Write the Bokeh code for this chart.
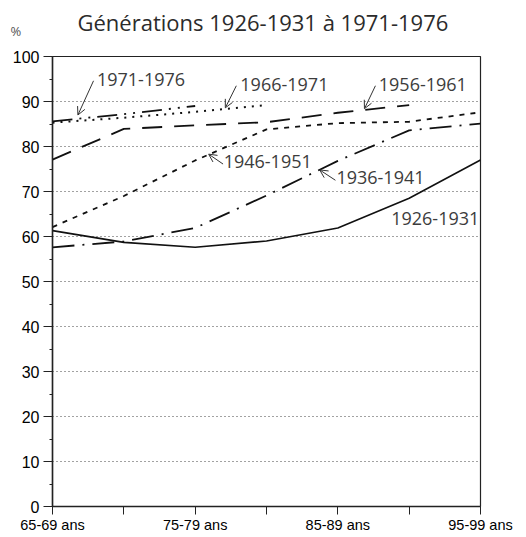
from bokeh.plotting import figure
from bokeh.models import Range1d, FixedTicker, Label, Arrow, OpenHead, Title
from bokeh.embed import file_html
from bokeh.resources import INLINE

# ---- data -------------------------------------------------------------
age_groups = ["65-69 ans", "70-74 ans", "75-79 ans", "80-84 ans",
              "85-89 ans", "90-94 ans", "95-99 ans"]
shown_labels = ["65-69 ans", "", "75-79 ans", "", "85-89 ans", "", "95-99 ans"]

gen_1926_1931 = [61.3, 58.7, 57.6, 59.0, 61.9, 68.5, 77.0]
gen_1936_1941 = [57.6, 58.9, 61.9, 69.1, 76.8, 83.6, 85.1]
gen_1946_1951 = [62.1, 69.0, 76.9, 83.8, 85.2, 85.5, 87.6]
gen_1956_1961 = [77.1, 83.9, 84.7, 85.4, 87.5, 89.2]
gen_1966_1971 = [85.3, 86.4, 87.7, 89.2]
gen_1971_1976 = [85.6, 87.2, 89.0]

series_names = ["1926-1931", "1936-1941", "1946-1951",
                "1956-1961", "1966-1971", "1971-1976"]
series_values = [gen_1926_1931, gen_1936_1941, gen_1946_1951,
                 gen_1956_1961, gen_1966_1971, gen_1971_1976]

title_text = "Générations 1926-1931 à 1971-1976"
unit_text = "%"
y_ticks = list(range(0, 101, 10))

# ---- styles -----------------------------------------------------------
dashes = ["solid", "22 8 2 8", "5 6", "20 12", "2 6", "20 7 2 7 2 7"]
widths = [1.6, 1.8, 1.8, 1.8, 2.0, 1.8]

# annotation positions (x of text start, y of text centre) and arrows
label_pos = {
    "1971-1976": (0.623, 94.9),
    "1966-1971": (2.633, 93.7),
    "1956-1961": (4.574, 93.7),
    "1946-1951": (2.399, 76.6),
    "1936-1941": (3.980, 73.1),
    "1926-1931": (4.748, 64.0),
}
arrow_pos = {
    "1971-1976": (0.575, 94.6, 0.356, 87.0),
    "1966-1971": (2.577, 93.5, 2.423, 88.6),
    "1956-1961": (4.527, 93.5, 4.373, 88.4),
    "1946-1951": (2.391, 76.1, 2.189, 78.3),
    "1936-1941": (3.966, 72.5, 3.746, 74.8),
}

x_idx = list(range(len(age_groups)))

p = figure(width=518, height=537, output_backend="svg", toolbar_location=None,
           x_range=Range1d(0, len(age_groups) - 1), y_range=Range1d(0, 100),
           min_border_left=52, min_border_right=38, min_border_top=56,
           min_border_bottom=31, background_fill_color="white",
           border_fill_color="white")

# titles: unit sign next to the frame, main title stacked above it
p.title.text = ""
p.add_layout(Title(text=unit_text, align="left", offset=-42, standoff=34,
                   text_font="Open Sans", text_font_size="13px",
                   text_font_style="normal", text_color="#555555"), "above")
p.add_layout(Title(text=title_text, align="left", offset=25, standoff=-68,
                   text_font="Open Sans", text_font_size="22px",
                   text_font_style="normal", text_color="#2b2b2b"), "above")

p.outline_line_color = "#222222"
p.outline_line_width = 1.2

# grid
p.xgrid.grid_line_color = None
p.ygrid.ticker = FixedTicker(ticks=y_ticks)
p.ygrid.grid_line_color = "#444444"
p.ygrid.grid_line_dash = "1 3"
p.ygrid.grid_line_width = 1.1

# y axis
p.yaxis.ticker = FixedTicker(ticks=y_ticks, minor_ticks=list(range(5, 100, 10)))
p.yaxis.major_tick_out = 9
p.yaxis.major_tick_in = 0
p.yaxis.minor_tick_out = 3
p.yaxis.minor_tick_in = 0
p.yaxis.axis_line_width = 1.5
p.yaxis.axis_line_color = "#222222"
p.yaxis.major_tick_line_color = "#222222"
p.yaxis.minor_tick_line_color = "#222222"
p.yaxis.major_label_text_font = "Arial"
p.yaxis.major_label_text_font_size = "16px"
p.yaxis.major_label_text_color = "black"
p.yaxis.major_label_standoff = 4

# x axis
p.xaxis.ticker = FixedTicker(ticks=x_idx)
p.xaxis.major_label_overrides = {i: lab for i, lab in zip(x_idx, shown_labels)}
p.xaxis.major_tick_out = 8
p.xaxis.major_tick_in = 0
p.xaxis.minor_tick_line_color = None
p.xaxis.axis_line_width = 1.5
p.xaxis.axis_line_color = "#222222"
p.xaxis.major_tick_line_color = "#222222"
p.xaxis.major_label_text_font = "Arial"
p.xaxis.major_label_text_font_size = "14.5px"
p.xaxis.major_label_text_color = "black"
p.xaxis.major_label_standoff = 2

# lines
for name, vals, dash, w in zip(series_names, series_values, dashes, widths):
    p.line(x_idx[:len(vals)], vals, line_color="#111111", line_width=w,
           line_dash=dash)

# labels and arrows
for name in series_names:
    lx, ly = label_pos[name]
    p.add_layout(Label(x=lx, y=ly, text=name, text_font="Open Sans",
                       text_font_size="18px", text_color="#3c3c3c",
                       text_align="left", text_baseline="middle"))
    if name in arrow_pos:
        xs, ys, xe, ye = arrow_pos[name]
        p.add_layout(Arrow(x_start=xs, y_start=ys, x_end=xe, y_end=ye,
                           line_color="#333333", line_width=1,
                           end=OpenHead(size=8, line_color="#333333", line_width=1)))

open("out.html", "w").write(file_html(p, INLINE))
